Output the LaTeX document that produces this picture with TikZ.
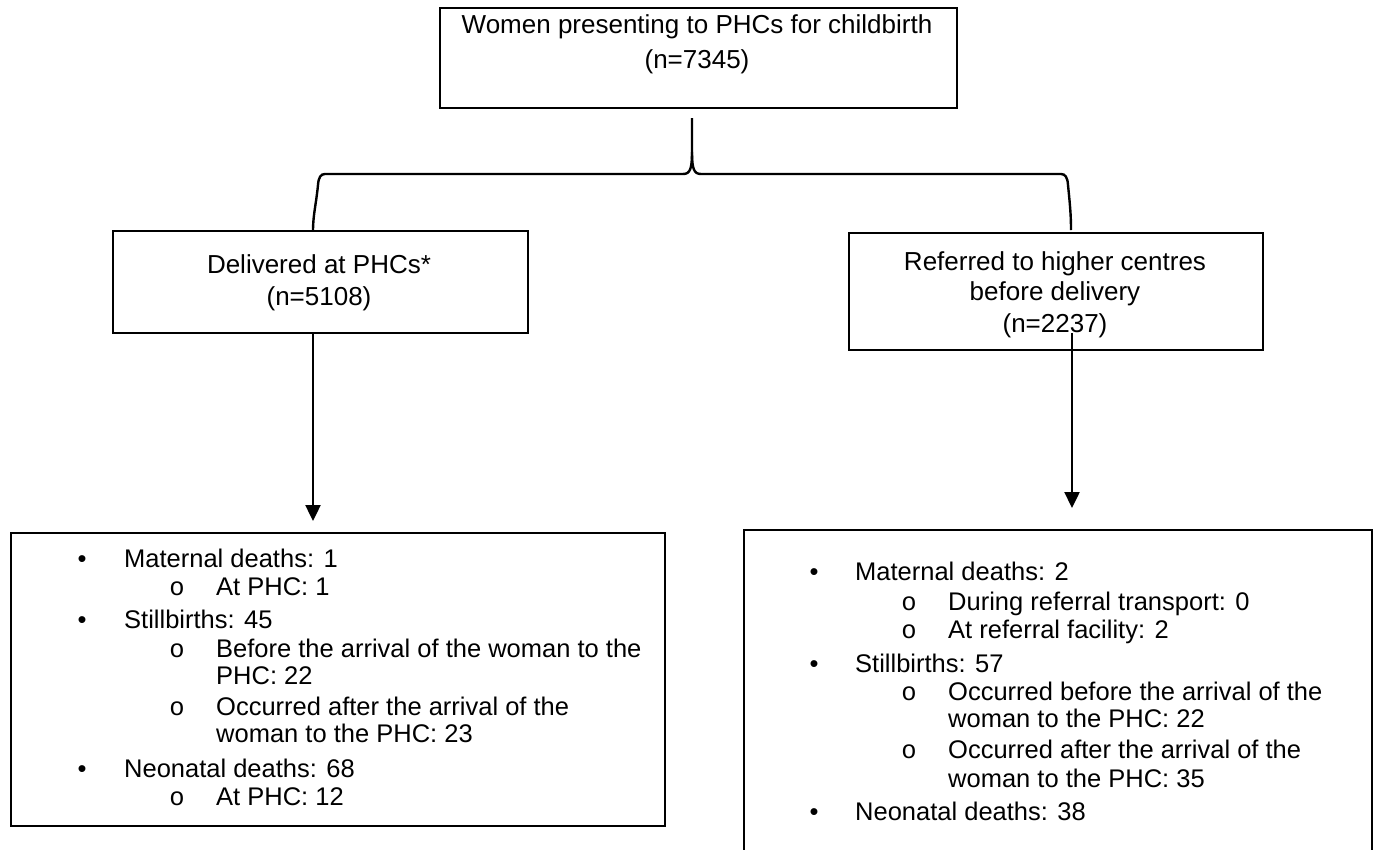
\documentclass[tikz,border=0pt]{standalone}
\usepackage{fontspec}
\setmainfont{Liberation Sans}
\newfontfamily\cmono{Liberation Mono}
\usetikzlibrary{arrows.meta}
\begin{document}
\begin{tikzpicture}[x=1pt,y=-1pt,
  box/.style={draw, line width=2.4pt, inner sep=0pt, outer sep=0pt},
  ttl/.style={font=\fontsize{26}{31}\selectfont, inner sep=0pt, anchor=base},
  li/.style={font=\fontsize{25.5}{30}\selectfont, inner sep=0pt, anchor=base west},
  bul/.style={font=\fontsize{25.5}{30}\selectfont, inner sep=0pt, anchor=base},
  subb/.style={font=\fontsize{25.5}{30}\cmono, inner sep=0pt, anchor=base},
  link/.style={line width=2.4pt},
  arr/.style={line width=2.4pt, -{Triangle[length=16pt,width=15pt]}}
]
\clip (0,0) rectangle (1375,849);
\fill[white] (0,0) rectangle (1375,849);

% top box
\node[box, minimum width=517pt, minimum height=100pt] (top) at (698.5,58) {};
\node[ttl] (t1) at (697,33) {Women presenting to PHCs for childbirth};
\node[ttl] (t2) at (697,68) {(n=7345)};

% middle boxes
\node[box, minimum width=415pt, minimum height=102pt] (m1) at (320.5,282) {};
\node[ttl] (m1a) at (319,273) {Delivered at PHCs*};
\node[ttl] (m1b) at (319,305) {(n=5108)};

\node[box, minimum width=414pt, minimum height=117pt] (m2) at (1056,291.5) {};
\node[ttl] (m2a) at (1055,270) {Referred to higher centres};
\node[ttl] (m2b) at (1055,300) {before delivery};
\node[ttl] (m2c) at (1055,332) {(n=2237)};

% bottom boxes
\node[box, minimum width=654pt, minimum height=293pt] (b1) at (338,679.5) {};
\node[box, minimum width=628pt, minimum height=340pt] (b2) at (1058,700) {};

% left list
\node[bul] (lb1) at (82,567) {•};  \node[li] (l1) at (124,567) {Maternal deaths: 1};
\node[subb] (lc1) at (177,595) {o}; \node[li] (l2) at (216,595) {At PHC: 1};
\node[bul] (lb2) at (82,628) {•};  \node[li] (l3) at (124,628) {Stillbirths: 45};
\node[subb] (lc2) at (177,657) {o}; \node[li] (l4) at (216,657) {Before the arrival of the woman to the};
\node[li] (l5) at (216,684) {PHC: 22};
\node[subb] (lc3) at (177,715) {o}; \node[li] (l6) at (216,715) {Occurred after the arrival of the};
\node[li] (l7) at (216,742) {woman to the PHC: 23};
\node[bul] (lb3) at (82,777) {•};  \node[li] (l8) at (124,777) {Neonatal deaths: 68};
\node[subb] (lc4) at (177,805) {o}; \node[li] (l9) at (216,805) {At PHC: 12};

% right list
\node[bul] (rb1) at (814,580) {•};  \node[li] (r1) at (855,580) {Maternal deaths: 2};
\node[subb] (rc1) at (909,610) {o}; \node[li] (r2) at (948,610) {During referral transport: 0};
\node[subb] (rc2) at (909,638) {o}; \node[li] (r3) at (948,638) {At referral facility: 2};
\node[bul] (rb2) at (814,672) {•};  \node[li] (r4) at (855,672) {Stillbirths: 57};
\node[subb] (rc3) at (909,700) {o}; \node[li] (r5) at (948,700) {Occurred before the arrival of the};
\node[li] (r6) at (948,727) {woman to the PHC: 22};
\node[subb] (rc4) at (909,758) {o}; \node[li] (r7) at (948,758) {Occurred after the arrival of the};
\node[li] (r8) at (948,787) {woman to the PHC: 35};
\node[bul] (rb3) at (814,820) {•};  \node[li] (r9) at (855,820) {Neonatal deaths: 38};

% brace connector
\coordinate (bt) at ([xshift=-6.5pt,yshift=-10pt]top.south);
\coordinate (bl) at ([xshift=-7.5pt]m1.north);
\coordinate (br) at ([xshift=15pt,yshift=3pt]m2.north);
\draw[link] (bt) -- (692,152) .. controls (692,169) and (690,174) .. (683,174)
  -- (325,174) .. controls (321,174) and (318.5,177) .. (318,185)
  .. controls (316,205) and (313,215) .. (bl);
\draw[link] (692,152) .. controls (692,169) and (694,174) .. (701,174)
  -- (1061,174) .. controls (1065,174) and (1067.5,177) .. (1068,185)
  .. controls (1070,205) and (1071,215) .. (br);

% arrows
\draw[arr] ([xshift=-7.5pt]m1.south) -- ++(0,188);
\draw[arr] ([xshift=16pt,yshift=17pt]m2.south) -- ++(0,175);
\end{tikzpicture}
\end{document}
